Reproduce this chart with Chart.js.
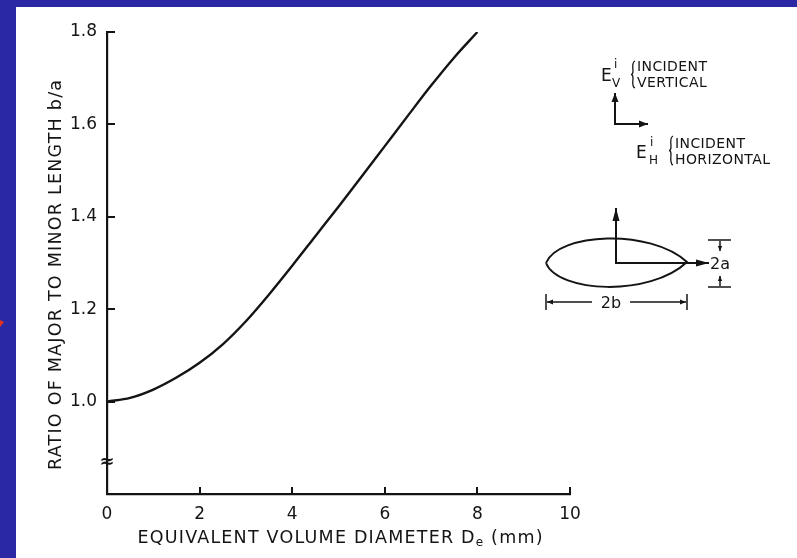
<!DOCTYPE html>
<html><head><meta charset="utf-8">
<script src="https://cdn.jsdelivr.net/npm/chart.js@4.4.1/dist/chart.umd.min.js"></script>
<style>html,body{margin:0;padding:0;background:#fff}#wrap{position:relative;width:797px;height:558px}canvas{display:block}</style>
</head><body><div id="wrap"><canvas id="c" width="797" height="558"></canvas></div>
<script>
// ---- data ----
const diameterMm = [0, 0.5, 1, 1.5, 2, 2.5, 3, 3.5, 4, 4.5, 5, 5.5, 6, 6.5, 7, 7.5, 8];
const axisRatio  = [1.0, 1.008, 1.026, 1.052, 1.084, 1.124, 1.174, 1.232, 1.294, 1.358, 1.422, 1.487, 1.553, 1.619, 1.684, 1.745, 1.80];
const xTickValues = [0, 2, 4, 6, 8, 10];
const yTickValues = [1.0, 1.2, 1.4, 1.6, 1.8];
const yTitleText = 'RATIO OF MAJOR TO MINOR LENGTH b/a';
const xTitleParts = [{t: 'EQUIVALENT VOLUME DIAMETER D'}, {t: 'e', sub: true}, {t: ' (mm)'}];

const INK = '#141414';
const FONT = '"DejaVu Sans", "Liberation Sans", sans-serif';

function spacedText(ctx, parts, cx, cy, target, size, rotate) {
  ctx.save();
  ctx.fillStyle = INK;
  ctx.textBaseline = 'middle';
  ctx.textAlign = 'left';
  const fontOf = p => (p.sub ? Math.round(size * 0.7) : size) + 'px ' + FONT;
  ctx.letterSpacing = '0px';
  let nat = 0, n = 0;
  parts.forEach(p => { ctx.font = fontOf(p); nat += ctx.measureText(p.t).width; n += p.t.length; });
  const sp = Math.max(0, (target - nat) / (n - 1));
  ctx.letterSpacing = sp + 'px';
  ctx.translate(cx, cy);
  if (rotate) ctx.rotate(-Math.PI / 2);
  let x = -target / 2;
  parts.forEach(p => {
    ctx.font = fontOf(p);
    ctx.fillText(p.t, x, p.sub ? size * 0.3 : 0);
    x += ctx.measureText(p.t).width;
  });
  ctx.restore();
}

function arrow(ctx, x1, y1, x2, y2, len, half) {
  ctx.beginPath(); ctx.moveTo(x1, y1); ctx.lineTo(x2, y2); ctx.stroke();
  const a = Math.atan2(y2 - y1, x2 - x1);
  ctx.beginPath();
  ctx.moveTo(x2, y2);
  ctx.lineTo(x2 - len * Math.cos(a) + half * Math.sin(a), y2 - len * Math.sin(a) - half * Math.cos(a));
  ctx.lineTo(x2 - len * Math.cos(a) - half * Math.sin(a), y2 - len * Math.sin(a) + half * Math.cos(a));
  ctx.closePath(); ctx.fill();
}

function brace(ctx, x, top, bottom) {
  const mid = (top + bottom) / 2;
  ctx.beginPath();
  ctx.moveTo(x + 3, top);
  ctx.quadraticCurveTo(x, top + 1, x + 1, mid - 4);
  ctx.quadraticCurveTo(x + 1, mid, x - 1, mid);
  ctx.quadraticCurveTo(x + 1, mid, x + 1, mid + 4);
  ctx.quadraticCurveTo(x, bottom - 1, x + 3, bottom);
  ctx.stroke();
}

function txt(ctx, s, x, y, size, align) {
  ctx.font = size + 'px ' + FONT;
  ctx.textAlign = align || 'left';
  ctx.textBaseline = 'alphabetic';
  ctx.fillText(s, x, y);
}

const framePlugin = {
  id: 'frame',
  beforeDraw(chart) {
    const ctx = chart.ctx;
    ctx.save();
    ctx.fillStyle = '#ffffff';
    ctx.fillRect(0, 0, 797, 558);
    ctx.fillStyle = '#2b28a6';
    ctx.fillRect(0, 0, 797, 7);
    ctx.fillRect(0, 0, 16, 558);
    ctx.fillStyle = '#e0321e';
    ctx.beginPath(); ctx.moveTo(0, 320); ctx.lineTo(4, 322); ctx.lineTo(0, 327); ctx.closePath(); ctx.fill();
    ctx.restore();
  },
  afterDraw(chart) {
    const ctx = chart.ctx;
    const xs = chart.scales.x, ys = chart.scales.y;
    const ax = xs.getPixelForValue(0), ay = ys.getPixelForValue(ys.min);
    ctx.save();
    ctx.strokeStyle = INK; ctx.fillStyle = INK; ctx.lineWidth = 2;
    yTickValues.forEach(v => {
      const p = Math.round(ys.getPixelForValue(v));
      ctx.beginPath(); ctx.moveTo(ax, p); ctx.lineTo(ax + 8, p); ctx.stroke();
    });
    xTickValues.filter(v => v > 0).forEach(v => {
      const p = Math.round(xs.getPixelForValue(v));
      ctx.beginPath(); ctx.moveTo(p, ay); ctx.lineTo(p, ay - 7); ctx.stroke();
    });
    ctx.font = 'bold 18px ' + FONT;
    ctx.textAlign = 'center'; ctx.textBaseline = 'middle';
    ctx.fillText('\u2248', ax, ys.getPixelForValue(0.868));
    spacedText(ctx, [{t: yTitleText}], 56, 275, 390, 17.5, true);
    spacedText(ctx, xTitleParts, 340, 538, 405, 17.5, false);

    ctx.letterSpacing = '0px';
    txt(ctx, 'E', 601, 81, 17);
    txt(ctx, 'i', 614, 68, 12);
    txt(ctx, 'V', 612, 87, 12);
    ctx.lineWidth = 1.3; brace(ctx, 632, 61, 88);
    ctx.letterSpacing = '0.4px';
    txt(ctx, 'INCIDENT', 637, 71, 14);
    txt(ctx, 'VERTICAL', 637, 87, 14);
    ctx.letterSpacing = '0px';
    ctx.lineWidth = 2;
    arrow(ctx, 615, 124, 615, 93, 9, 3.5);
    arrow(ctx, 614, 124, 648, 124, 9, 3.5);
    txt(ctx, 'E', 636, 158, 17);
    txt(ctx, 'i', 650, 146, 12);
    txt(ctx, 'H', 649, 164, 12);
    ctx.lineWidth = 1.3; brace(ctx, 670, 136, 165);
    ctx.letterSpacing = '0.4px';
    txt(ctx, 'INCIDENT', 675, 148, 14);
    txt(ctx, 'HORIZONTAL', 675, 164, 14);
    ctx.letterSpacing = '0px';
    ctx.lineWidth = 2;
    ctx.beginPath();
    ctx.moveTo(546, 263);
    ctx.bezierCurveTo(558, 233, 650, 228, 687, 262);
    ctx.bezierCurveTo(650, 297, 558, 293, 546, 263);
    ctx.stroke();
    arrow(ctx, 616, 264, 616, 208, 13, 3.5);
    arrow(ctx, 615, 263, 709, 263, 13, 3.5);
    ctx.lineWidth = 1.5;
    ctx.beginPath(); ctx.moveTo(708, 240); ctx.lineTo(731, 240); ctx.stroke();
    ctx.beginPath(); ctx.moveTo(708, 287); ctx.lineTo(731, 287); ctx.stroke();
    arrow(ctx, 720, 241, 720, 251, 5, 2.2);
    arrow(ctx, 720, 286, 720, 276, 5, 2.2);
    txt(ctx, '2a', 710, 269, 16);
    ctx.beginPath(); ctx.moveTo(546, 294); ctx.lineTo(546, 310); ctx.stroke();
    ctx.beginPath(); ctx.moveTo(687, 294); ctx.lineTo(687, 310); ctx.stroke();
    arrow(ctx, 592, 302, 547, 302, 6, 2.5);
    arrow(ctx, 630, 302, 686, 302, 6, 2.5);
    txt(ctx, '2b', 611, 308, 16, 'center');
    ctx.restore();
  }
};

new Chart(document.getElementById('c'), {
  type: 'line',
  data: {
    datasets: [{
      data: diameterMm.map((d, i) => ({x: d, y: axisRatio[i]})),
      borderColor: INK,
      borderWidth: 2.4,
      pointRadius: 0,
      fill: false,
      cubicInterpolationMode: 'monotone'
    }]
  },
  options: {
    responsive: false,
    devicePixelRatio: 1,
    animation: false,
    layout: {padding: {top: 32, right: 227, bottom: 0, left: 0}},
    plugins: {legend: {display: false}, tooltip: {enabled: false}},
    scales: {
      x: {
        type: 'linear', min: 0, max: 10,
        afterBuildTicks: s => { s.ticks = xTickValues.map(v => ({value: v})); },
        afterFit: s => { s.height = 64; },
        grid: {display: false, drawTicks: false},
        border: {display: true, color: INK, width: 2.2},
        ticks: {color: INK, padding: 10, maxRotation: 0, autoSkip: false,
                font: {family: FONT, size: 17}, callback: v => String(v)}
      },
      y: {
        type: 'linear', min: 0.8, max: 1.8,
        afterBuildTicks: s => { s.ticks = yTickValues.map(v => ({value: v})); },
        afterFit: s => { s.width = 107; },
        grid: {display: false, drawTicks: false},
        border: {display: true, color: INK, width: 2.2},
        ticks: {color: INK, padding: 10, autoSkip: false,
                font: {family: FONT, size: 17}, callback: v => v.toFixed(1)}
      }
    }
  },
  plugins: [framePlugin]
});
</script>
</body></html>
